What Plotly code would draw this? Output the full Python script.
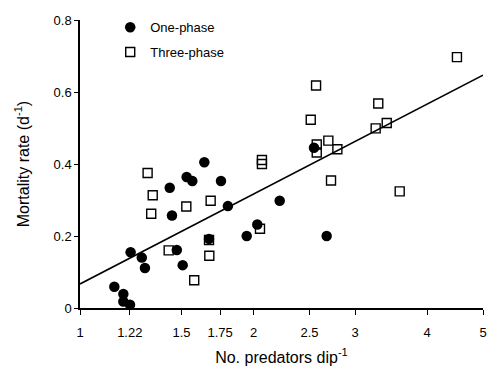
import numpy as np
import plotly.graph_objects as go

# One-phase (filled circles)
one_x = [1.643, 1.531, 1.566, 1.431, 1.756, 1.444, 1.805, 2.220, 2.030, 1.946, 1.674,
         1.224, 1.280, 1.472, 1.296, 1.507, 1.147, 1.189, 1.189, 1.221, 2.546, 2.678]
one_y = [0.405, 0.364, 0.353, 0.334, 0.353, 0.257, 0.283, 0.298, 0.232, 0.200, 0.192,
         0.155, 0.140, 0.161, 0.111, 0.119, 0.059, 0.039, 0.018, 0.009, 0.445, 0.200]

# Three-phase (open squares)
three_x = [1.310, 1.337, 1.329, 1.529, 1.685, 2.068, 2.068, 2.052, 1.425, 1.674, 1.676, 1.578,
           4.506, 2.567, 3.291, 2.513, 3.404, 3.257, 2.696, 2.574, 2.795, 2.574, 2.725, 3.585]
three_y = [0.375, 0.313, 0.262, 0.282, 0.298, 0.411, 0.400, 0.220, 0.160, 0.189, 0.145, 0.077,
           0.697, 0.618, 0.568, 0.523, 0.514, 0.499, 0.465, 0.454, 0.441, 0.432, 0.354, 0.324]

# Regression line: y = a + b*log10(x)
reg_a = 0.0666
reg_b = 0.830
reg_x = np.array([1.0, 5.0])
reg_y = reg_a + reg_b * np.log10(reg_x)

x_tickvals = [1, 1.22, 1.5, 1.75, 2, 2.5, 3, 4, 5]
x_ticktext = ["1", "1.22", "1.5", "1.75", "2", "2.5", "3", "4", "5"]
y_tickvals = [0, 0.2, 0.4, 0.6, 0.8]
y_ticktext = ["0", "0.2", "0.4", "0.6", "0.8"]

font = dict(family="Liberation Sans, Arial, sans-serif", size=13, color="black")

fig = go.Figure()
fig.add_trace(go.Scatter(x=reg_x, y=reg_y, mode="lines",
                         line=dict(color="black", width=1.6), showlegend=False,
                         hoverinfo="skip"))
fig.add_trace(go.Scatter(x=three_x, y=three_y, mode="markers", name="Three-phase",
                         legendrank=2, legendgroup="b",
                         marker=dict(symbol="square-open", size=9, color="black",
                                     line=dict(width=1.4, color="black")),
                         cliponaxis=False))
fig.add_trace(go.Scatter(x=one_x, y=one_y, mode="markers", name="One-phase",
                         legendrank=1, legendgroup="a",
                         marker=dict(symbol="circle", size=10.5, color="black"),
                         cliponaxis=False))

fig.update_layout(
    width=498, height=375,
    margin=dict(l=80, r=15, t=12, b=67),
    paper_bgcolor="white", plot_bgcolor="white",
    font=font,
    showlegend=True,
    legend=dict(x=0.075, y=1.027, xanchor="left", yanchor="top",
                bgcolor="rgba(0,0,0,0)", font=dict(size=13),
                tracegroupgap=5, itemsizing="trace"),
    xaxis=dict(type="log", range=[0, np.log10(5)],
               tickvals=x_tickvals, ticktext=x_ticktext,
               showline=True, linecolor="black", linewidth=1.5,
               ticks="outside", ticklen=5, tickwidth=1.3, tickcolor="black",
               ticklabelstandoff=7,
               showgrid=False, zeroline=False,
               title=dict(text="No. predators dip<sup>-1</sup>", standoff=12)),
    yaxis=dict(range=[0, 0.8],
               tickvals=y_tickvals, ticktext=y_ticktext,
               showline=True, linecolor="black", linewidth=1.5,
               ticks="outside", ticklen=4, tickwidth=1.3, tickcolor="black",
               showgrid=False, zeroline=False,
               title=dict(text="Mortality rate (d<sup>-1</sup>)", standoff=20)),
)

fig.write_html("out.html", config={"displayModeBar": False},
               post_script="document.body.style.margin='0';")
